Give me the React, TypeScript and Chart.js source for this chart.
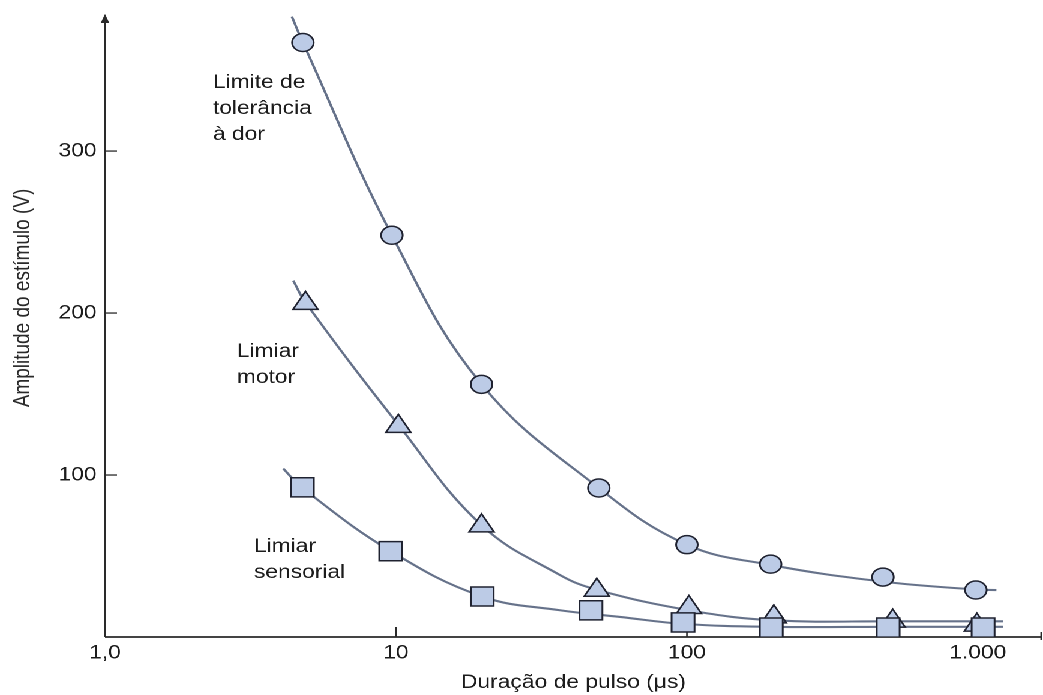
import React, { useEffect, useRef } from 'react';
import { Chart, registerables } from 'chart.js';

Chart.register(...registerables);

// ---- axis ticks ----
const xTickValues = [1, 10, 100, 1000];
const xTickLabels = ['1,0', '10', '100', '1.000'];
const yTickValues = [100, 200, 300];

// ---- measured points (pulse duration in µs, amplitude in V) ----
const painDurations = [4.79, 9.69, 19.7, 49.8, 100, 194, 472, 985];
const painAmplitudes = [367, 248, 156, 92, 57, 45, 37, 29];

const motorDurations = [4.89, 10.2, 19.7, 49, 101.6, 199, 510, 993];
const motorAmplitudes = [206, 130, 68.6, 28.9, 18.2, 12.4, 9.8, 7.3];

const sensoryDurations = [4.77, 9.6, 19.8, 46.8, 97, 195, 492, 1043];
const sensoryAmplitudes = [92.4, 53, 25, 16.5, 9, 5.8, 5.8, 5.8];

// ---- fitted curves ----
const painCurveDurations = [4.39, 4.79, 9.69, 19.7, 49.8, 100, 194, 472, 985, 1159];
const painCurveAmplitudes = [383, 367, 248, 156, 92, 57, 44.5, 34.2, 29.3, 29];

const motorCurveDurations = [4.44, 4.89, 10.2, 19.7, 36.6, 49, 101.6, 199, 510, 1219];
const motorCurveAmplitudes = [220, 206.5, 131, 69, 38.3, 29.2, 16.5, 10.3, 9.7, 9.7];

const sensoryCurveDurations = [4.1, 4.77, 9.6, 19.8, 36.6, 58.9, 97, 195, 500, 1219];
const sensoryCurveAmplitudes = [104, 92, 53, 25, 16.5, 12.4, 8.1, 6.3, 6.3, 6.3];

// ---- in-plot labels (anchor = left x, first-line baseline) ----
const annotationX = [2.35, 2.84, 3.25];
const annotationY = [338.8, 173, 52.6];
const annotationLines = [
  ['Limite de', 'tolerância', 'à dor'],
  ['Limiar', 'motor'],
  ['Limiar', 'sensorial'],
];

const X_TITLE = 'Duração de pulso (μs)';
const Y_TITLE = 'Amplitude do estímulo (V)';

const FONT = '"Liberation Sans", Arial, Helvetica, sans-serif';
const TEXT = '#1c1c1c';
const AXIS = '#2a2a2a';
const CURVE = '#66728a';
const FILL = '#bccbe6';
const EDGE = '#1f2230';

const W = 869;
const H = 695;

const pts = (xs: number[], ys: number[]) => xs.map((x, i) => ({ x, y: ys[i] }));

const decorPlugin = {
  id: 'decor',
  beforeDatasetsDraw(chart: any) {
    const { ctx, chartArea: a, scales } = chart;
    const xs = scales.x;
    const ys = scales.y;
    ctx.save();
    ctx.strokeStyle = AXIS;
    ctx.fillStyle = AXIS;
    // y axis
    ctx.lineWidth = 1.6;
    ctx.beginPath();
    ctx.moveTo(a.left, a.bottom);
    ctx.lineTo(a.left, a.top + 6);
    ctx.stroke();
    ctx.beginPath();
    ctx.moveTo(a.left, a.top - 1);
    ctx.lineTo(a.left - 3.6, a.top + 8);
    ctx.lineTo(a.left + 3.6, a.top + 8);
    ctx.closePath();
    ctx.fill();
    // x axis
    ctx.lineWidth = 1.8;
    ctx.beginPath();
    ctx.moveTo(a.left, a.bottom);
    ctx.lineTo(a.right, a.bottom);
    ctx.stroke();
    ctx.lineWidth = 1.4;
    ctx.beginPath();
    ctx.moveTo(a.right - 0.5, a.bottom - 5);
    ctx.lineTo(a.right - 0.5, a.bottom + 3);
    ctx.stroke();
    // inner ticks
    ctx.lineWidth = 1.3;
    for (const v of yTickValues) {
      const y = ys.getPixelForValue(v);
      ctx.beginPath();
      ctx.moveTo(a.left, y);
      ctx.lineTo(a.left + 10, y);
      ctx.stroke();
    }
    for (const v of xTickValues.slice(1)) {
      const x = xs.getPixelForValue(v);
      ctx.beginPath();
      ctx.moveTo(x, a.bottom);
      ctx.lineTo(x, a.bottom - 10);
      ctx.stroke();
    }
    ctx.restore();
  },
  afterDatasetsDraw(chart: any) {
    const { ctx, chartArea: a, scales } = chart;
    ctx.save();
    ctx.fillStyle = TEXT;
    ctx.font = `19px ${FONT}`;
    ctx.textAlign = 'left';
    ctx.textBaseline = 'alphabetic';
    annotationLines.forEach((lines, i) => {
      const x = scales.x.getPixelForValue(annotationX[i]);
      const y0 = scales.y.getPixelForValue(annotationY[i]);
      lines.forEach((t, j) => ctx.fillText(t, x, y0 + j * 26));
    });
    // y axis title
    ctx.translate(19.5, a.top + (a.bottom - a.top) * 0.455);
    ctx.rotate(-Math.PI / 2);
    ctx.textAlign = 'center';
    ctx.textBaseline = 'middle';
    ctx.fillStyle = '#2a2a2a';
    ctx.fillText(Y_TITLE, 0, 0);
    ctx.restore();
  },
};

export default function App() {
  const ref = useRef<HTMLCanvasElement | null>(null);

  useEffect(() => {
    if (!ref.current) return;
    const markerBase = {
      showLine: false,
      backgroundColor: FILL,
      borderColor: EDGE,
      pointBackgroundColor: FILL,
      pointBorderColor: EDGE,
      pointBorderWidth: 1.5,
    };
    const curveBase = {
      showLine: true,
      borderColor: CURVE,
      borderWidth: 2.1,
      pointRadius: 0,
      fill: false,
      tension: 0.4,
      order: 4,
    };
    const chart = new Chart(ref.current, {
      type: 'scatter',
      data: {
        datasets: [
          { ...markerBase, label: 'Limiar sensorial', data: pts(sensoryDurations, sensoryAmplitudes), pointStyle: 'rect', pointRadius: 13.5, order: 1 },
          { ...markerBase, label: 'Limiar motor', data: pts(motorDurations, motorAmplitudes), pointStyle: 'triangle', pointRadius: 12, order: 2 },
          { ...markerBase, label: 'Limite de tolerância à dor', data: pts(painDurations, painAmplitudes), pointStyle: 'circle', pointRadius: 9, order: 3 },
          { ...curveBase, label: 'curva dor', data: pts(painCurveDurations, painCurveAmplitudes) },
          { ...curveBase, label: 'curva motor', data: pts(motorCurveDurations, motorCurveAmplitudes) },
          { ...curveBase, label: 'curva sensorial', data: pts(sensoryCurveDurations, sensoryCurveAmplitudes) },
        ] as any,
      },
      options: {
        responsive: false,
        animation: false,
        devicePixelRatio: 2,
        layout: { autoPadding: false, padding: { top: 15, right: 1, left: 0, bottom: 0 } },
        plugins: { legend: { display: false }, tooltip: { enabled: false } },
        scales: {
          x: {
            type: 'logarithmic',
            min: 1,
            max: 1660,
            position: 'bottom',
            afterBuildTicks: (s: any) => {
              s.ticks = xTickValues.map((v) => ({ value: v }));
            },
            afterFit: (s: any) => {
              s.height = 58;
              s.paddingLeft = 0;
              s.paddingRight = 0;
            },
            grid: { display: false, drawTicks: false },
            border: { display: false },
            ticks: {
              autoSkip: false,
              maxRotation: 0,
              padding: 5,
              color: TEXT,
              font: { family: FONT, size: 19 },
              callback: (_v: any, i: number) => xTickLabels[i],
            },
            title: {
              display: true,
              text: X_TITLE,
              color: TEXT,
              font: { family: FONT, size: 19 },
              padding: { top: 0, bottom: 1 },
            },
          },
          y: {
            type: 'linear',
            min: 0,
            max: 384,
            afterBuildTicks: (s: any) => {
              s.ticks = yTickValues.map((v) => ({ value: v }));
            },
            afterFit: (s: any) => {
              s.width = 87.5;
              s.paddingTop = 0;
              s.paddingBottom = 0;
            },
            grid: { display: false, drawTicks: false },
            border: { display: false },
            ticks: {
              autoSkip: false,
              padding: 7,
              color: TEXT,
              font: { family: FONT, size: 19 },
              callback: (v: any) => String(v),
            },
          },
        },
      } as any,
      plugins: [decorPlugin],
    });
    return () => chart.destroy();
  }, []);

  return (
    <div
      style={{
        position: 'fixed',
        left: 0,
        top: 0,
        width: W,
        height: H,
        background: '#fff',
        transform: `scaleX(${1043 / W})`,
        transformOrigin: '0 0',
      }}
    >
      <canvas ref={ref} width={W} height={H} />
    </div>
  );
}
